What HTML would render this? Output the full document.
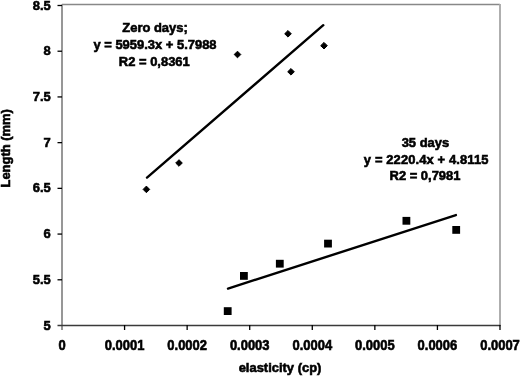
<!DOCTYPE html>
<html><head><meta charset="utf-8">
<style>
html,body{margin:0;padding:0;background:#fff;width:520px;height:376px;overflow:hidden}
svg{display:block;will-change:transform;filter:blur(0.4px)}
text{font-family:"Liberation Sans",sans-serif;font-weight:bold;fill:#000;stroke:#000;stroke-width:0.6px}
</style></head><body>
<svg width="520" height="376" viewBox="0 0 520 376">
<line x1="62" y1="4.5" x2="500" y2="4.5" stroke="#888" stroke-width="1.3"/>
<line x1="500" y1="4" x2="500" y2="325.5" stroke="#ababab" stroke-width="1.9"/>
<line x1="62" y1="4.5" x2="62" y2="330" stroke="#858585" stroke-width="1.7"/>
<line x1="57.5" y1="325.5" x2="500.5" y2="325.5" stroke="#3a3a3a" stroke-width="1.4"/>
<g stroke="#000" stroke-width="1.3">
<line x1="57.5" y1="279.79" x2="62" y2="279.79"/>
<line x1="57.5" y1="234.07" x2="62" y2="234.07"/>
<line x1="57.5" y1="188.36" x2="62" y2="188.36"/>
<line x1="57.5" y1="142.64" x2="62" y2="142.64"/>
<line x1="57.5" y1="96.93" x2="62" y2="96.93"/>
<line x1="57.5" y1="51.22" x2="62" y2="51.22"/>
<line x1="57.5" y1="5.50" x2="62" y2="5.50"/>
</g>
<text transform="translate(50.8,329.6) scale(0.96,1)" font-size="13.5" text-anchor="end">5</text>
<text transform="translate(50.8,283.89) scale(0.96,1)" font-size="13.5" text-anchor="end">5.5</text>
<text transform="translate(50.8,238.17) scale(0.96,1)" font-size="13.5" text-anchor="end">6</text>
<text transform="translate(50.8,192.46) scale(0.96,1)" font-size="13.5" text-anchor="end">6.5</text>
<text transform="translate(50.8,146.74) scale(0.96,1)" font-size="13.5" text-anchor="end">7</text>
<text transform="translate(50.8,101.03) scale(0.96,1)" font-size="13.5" text-anchor="end">7.5</text>
<text transform="translate(50.8,55.32) scale(0.96,1)" font-size="13.5" text-anchor="end">8</text>
<text transform="translate(50.8,9.6) scale(0.96,1)" font-size="13.5" text-anchor="end">8.5</text>
<g stroke="#000" stroke-width="1.3">
<line x1="124.57" y1="325" x2="124.57" y2="330"/>
<line x1="187.14" y1="325" x2="187.14" y2="330"/>
<line x1="249.71" y1="325" x2="249.71" y2="330"/>
<line x1="312.28" y1="325" x2="312.28" y2="330"/>
<line x1="374.85" y1="325" x2="374.85" y2="330"/>
<line x1="437.42" y1="325" x2="437.42" y2="330"/>
<line x1="499.99" y1="325" x2="499.99" y2="330"/>
</g>
<text transform="translate(62.0,350) scale(0.96,1.06)" font-size="13.5" text-anchor="middle">0</text>
<text transform="translate(124.57,350) scale(0.96,1.06)" font-size="13.5" text-anchor="middle">0.0001</text>
<text transform="translate(187.14,350) scale(0.96,1.06)" font-size="13.5" text-anchor="middle">0.0002</text>
<text transform="translate(249.71,350) scale(0.96,1.06)" font-size="13.5" text-anchor="middle">0.0003</text>
<text transform="translate(312.28,350) scale(0.96,1.06)" font-size="13.5" text-anchor="middle">0.0004</text>
<text transform="translate(374.85,350) scale(0.96,1.06)" font-size="13.5" text-anchor="middle">0.0005</text>
<text transform="translate(437.42,350) scale(0.96,1.06)" font-size="13.5" text-anchor="middle">0.0006</text>
<text transform="translate(499.99,350) scale(0.96,1.06)" font-size="13.5" text-anchor="middle">0.0007</text>
<text transform="translate(280,371.8) scale(0.96,1)" font-size="13.5" text-anchor="middle">elasticity (cp)</text>
<text transform="translate(10.2,148.3) rotate(-90) scale(0.96,1)" font-size="13.5" text-anchor="middle">Length (mm)</text>
<g fill="#000" stroke="#000" stroke-width="1" stroke-linejoin="round">
<path d="M146.4 186.1 L149.70000000000002 189.4 L146.4 192.70000000000002 L143.1 189.4Z"/>
<path d="M179 159.7 L182.3 163 L179 166.3 L175.7 163Z"/>
<path d="M237.5 51.2 L240.8 54.5 L237.5 57.8 L234.2 54.5Z"/>
<path d="M288 30.499999999999996 L291.3 33.8 L288 37.099999999999994 L284.7 33.8Z"/>
<path d="M291 68.5 L294.3 71.8 L291 75.1 L287.7 71.8Z"/>
<path d="M324 42.400000000000006 L327.3 45.7 L324 49.0 L320.7 45.7Z"/>
</g>
<line x1="147" y1="177.6" x2="323.3" y2="25.2" stroke="#000" stroke-width="2.4" stroke-linecap="round"/>
<g fill="#000">
<rect x="223.8" y="307.2" width="7.8" height="7.8"/>
<rect x="240.0" y="272.0" width="7.8" height="7.8"/>
<rect x="275.9" y="259.8" width="7.8" height="7.8"/>
<rect x="324.1" y="239.7" width="7.8" height="7.8"/>
<rect x="402.5" y="216.9" width="7.8" height="7.8"/>
<rect x="452.3" y="226.0" width="7.8" height="7.8"/>
</g>
<line x1="228" y1="288.6" x2="455.9" y2="215.1" stroke="#000" stroke-width="2.4" stroke-linecap="round"/>
<text transform="translate(155,32.2) scale(0.96,1)" font-size="13.5" text-anchor="middle">Zero days;</text>
<text transform="translate(155,48.8) scale(0.96,1)" font-size="13.5" text-anchor="middle">y = 5959.3x + 5.7988</text>
<text transform="translate(154.3,65.6) scale(0.96,1)" font-size="13.5" text-anchor="middle">R2 = 0,8361</text>
<text transform="translate(425.4,146.8) scale(0.96,1)" font-size="13.5" text-anchor="middle">35 days</text>
<text transform="translate(426.2,163.9) scale(0.96,1)" font-size="13.5" text-anchor="middle" letter-spacing="0.12">y = 2220.4x + 4.8115</text>
<text transform="translate(425,179.8) scale(0.96,1)" font-size="13.5" text-anchor="middle">R2 = 0,7981</text>
</svg>
</body></html>
